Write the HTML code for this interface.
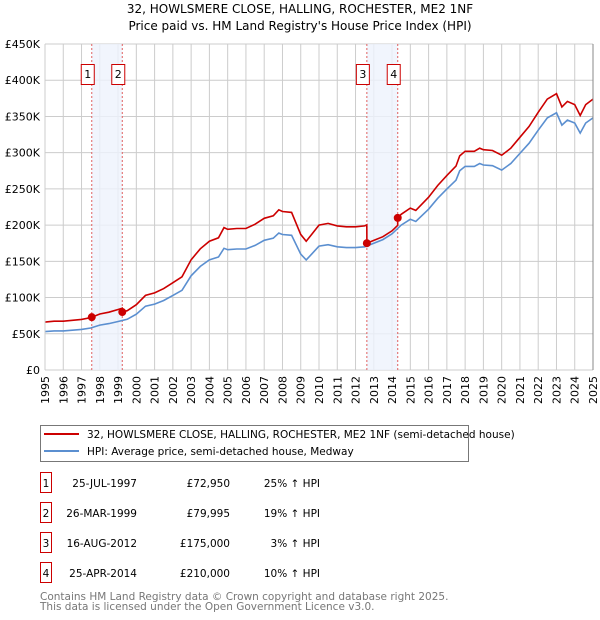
<!DOCTYPE html>
<html><head><meta charset="utf-8"><style>
body{margin:0;background:#fff;font-family:"DejaVu Sans","Liberation Sans",sans-serif;}
svg{display:block}
</style></head><body>
<svg id="c" width="600" height="620" viewBox="0 0 600 620">
<text x="300" y="13" text-anchor="middle" font-size="12">32, HOWLSMERE CLOSE, HALLING, ROCHESTER, ME2 1NF</text>
<text x="300" y="30" text-anchor="middle" font-size="12">Price paid vs. HM Land Registry's House Price Index (HPI)</text>
<g id="grid"></g><g id="bands"></g><g id="lines"></g><g id="marks"></g><g id="axes"></g>
<g>
<rect x="40.5" y="425.5" width="428" height="36" fill="#fff" stroke="#777"/>
<line x1="44" y1="434" x2="79" y2="434" stroke="#cc0000" stroke-width="2"/>
<text x="87" y="438" font-size="10.5">32, HOWLSMERE CLOSE, HALLING, ROCHESTER, ME2 1NF (semi-detached house)</text>
<line x1="44" y1="451" x2="79" y2="451" stroke="#5b8fd0" stroke-width="2"/>
<text x="87" y="455" font-size="10.5">HPI: Average price, semi-detached house, Medway</text>
</g>
<g id="table" font-size="10.5"></g>
<text x="40" y="600" font-size="10.5" fill="#777">Contains HM Land Registry data © Crown copyright and database right 2025.</text>
<text x="40" y="610" font-size="10.5" fill="#777">This data is licensed under the Open Government Licence v3.0.</text>
</svg>
<script>
const hpiYears=[1995,1995.5,1996,1996.5,1997,1997.5,1998,1998.5,1999,1999.5,2000,2000.5,2001,2001.5,2002,2002.5,2003,2003.5,2004,2004.5,2004.8,2005,2005.5,2006,2006.5,2007,2007.5,2007.8,2008,2008.5,2009,2009.3,2009.6,2010,2010.5,2011,2011.5,2012,2012.5,2013,2013.5,2014,2014.5,2015,2015.3,2016,2016.5,2017,2017.5,2017.7,2018,2018.5,2018.8,2019,2019.5,2020,2020.5,2021,2021.5,2022,2022.5,2023,2023.3,2023.6,2024,2024.3,2024.6,2025];
const hpiValues=[53,54,54,55,56,58,62,64,67,70,77,88,91,96,103,110,130,143,152,156,168,166,167,167,172,179,182,189,187,186,160,152,160,171,173,170,169,169,170,175,180,188,200,208,205,222,237,250,262,275,281,281,285,283,282,276,285,299,313,331,348,355,338,345,341,327,341,348];
const saleDates=[1997.56,1999.23,2012.62,2014.31];
const salePrices=[72950,79995,175000,210000];
const saleLabels=["1","2","3","4"];
const saleDateText=["25-JUL-1997","26-MAR-1999","16-AUG-2012","25-APR-2014"];
const salePriceText=["£72,950","£79,995","£175,000","£210,000"];
const saleHpiText=["25% ↑ HPI","19% ↑ HPI","3% ↑ HPI","10% ↑ HPI"];
const yTicks=[0,50,100,150,200,250,300,350,400,450];
const yTickLabels=["£0","£50K","£100K","£150K","£200K","£250K","£300K","£350K","£400K","£450K"];
const xTicks=[1995,1996,1997,1998,1999,2000,2001,2002,2003,2004,2005,2006,2007,2008,2009,2010,2011,2012,2013,2014,2015,2016,2017,2018,2019,2020,2021,2022,2023,2024,2025];

const NS="http://www.w3.org/2000/svg";
const X0=45,X1=593,Y0=370,Y1=44;
const xs=y=>X0+(y-1995)/30*(X1-X0);
const ys=v=>Y0-v/450*(Y0-Y1);
function mk(tag,at,parent){const e=document.createElementNS(NS,tag);for(const k in at)e.setAttribute(k,at[k]);document.getElementById(parent).appendChild(e);return e;}
function hpiAt(t){for(let i=1;i<hpiYears.length;i++){if(t<=hpiYears[i]){const f=(t-hpiYears[i-1])/(hpiYears[i]-hpiYears[i-1]);return hpiValues[i-1]+f*(hpiValues[i]-hpiValues[i-1]);}}return hpiValues[hpiValues.length-1];}

yTicks.forEach((v,i)=>{
const l=mk('line',{x1:X0,x2:X1,y1:ys(v),y2:ys(v),stroke:'#ccc','stroke-width':1},'grid');


const t=mk('text',{x:40,y:ys(v)+4,'text-anchor':'end','font-size':11},'axes');
t.textContent=yTickLabels[i];


});
xTicks.forEach(y=>{
const l=mk('line',{x1:xs(y),x2:xs(y),y1:Y1,y2:Y0,stroke:'#ccc','stroke-width':1},'grid');


const t=mk('text',{x:0,y:0,'text-anchor':'end','font-size':11,transform:`translate(${xs(y)+4},376) rotate(-90)`},'axes');
t.textContent=y;


});
[[saleDates[0],saleDates[1]],[saleDates[2],saleDates[3]]].forEach(b=>{
const r=mk('rect',{x:xs(b[0]),y:Y1,width:xs(b[1])-xs(b[0]),height:Y0-Y1,fill:'#eef3fc',opacity:0.8},'bands');


});
saleDates.forEach((d,i)=>{
const l=mk('line',{x1:xs(d),x2:xs(d),y1:Y1,y2:Y0,stroke:'#e06060','stroke-dasharray':'2,2','stroke-width':1},'bands');


const r=mk('rect',{x:xs(d)-10.5,y:64.5,width:13,height:20,fill:'#fff',stroke:'#cc0000'},'bands');


const t=mk('text',{x:xs(d)-4,y:78,'text-anchor':'middle','font-size':11},'bands');
t.textContent=saleLabels[i];


});
const ax=mk('line',{x1:X0,x2:X0,y1:Y1,y2:Y0,stroke:'#ccc'},'axes');


const ar=mk('line',{x1:X1,x2:X1,y1:Y1,y2:Y0,stroke:'#888'},'axes');


let p='';hpiYears.forEach((y,i)=>{p+=(i?'L':'M')+xs(y).toFixed(1)+','+ys(hpiValues[i]).toFixed(1);});
const hl=mk('path',{d:p,fill:'none',stroke:'#5b8fd0','stroke-width':1.6},'lines');


const factors=saleDates.map((d,i)=>salePrices[i]/1000/hpiAt(d));
function factorAt(t){let k=0;for(let i=0;i<saleDates.length;i++)if(t>=saleDates[i])k=i;return factors[k];}
const pts=[];
const allT=hpiYears.concat(saleDates.map(d=>d-0.001),saleDates).sort((a,b)=>a-b);
allT.forEach(t=>pts.push([xs(t),ys(hpiAt(t)*factorAt(t))]));
let rp='';pts.forEach((q,i)=>{rp+=(i?'L':'M')+q[0].toFixed(1)+','+q[1].toFixed(1);});
const rl=mk('path',{d:rp,fill:'none',stroke:'#cc0000','stroke-width':1.6},'lines');


saleDates.forEach((d,i)=>{
const c=mk('circle',{cx:xs(d),cy:ys(salePrices[i]/1000),r:4,fill:'#cc0000'},'marks');


});
saleDates.forEach((d,i)=>{
const cy=483+i*30;
const r=mk('rect',{x:40.5,y:cy-10.5,width:11,height:20,fill:'#fff',stroke:'#cc0000'},'table');


const cols=[[46,'middle',saleLabels[i],'table-row-number'],[137,'end',saleDateText[i],'table-sale-date'],[230,'end',salePriceText[i],'table-sale-price'],[320,'end',saleHpiText[i],'table-hpi-change']];
cols.forEach(c=>{
const t=mk('text',{x:c[0],y:cy+4,'text-anchor':c[1]},'table');
t.textContent=c[2];


});
});
</script>
</body></html>
